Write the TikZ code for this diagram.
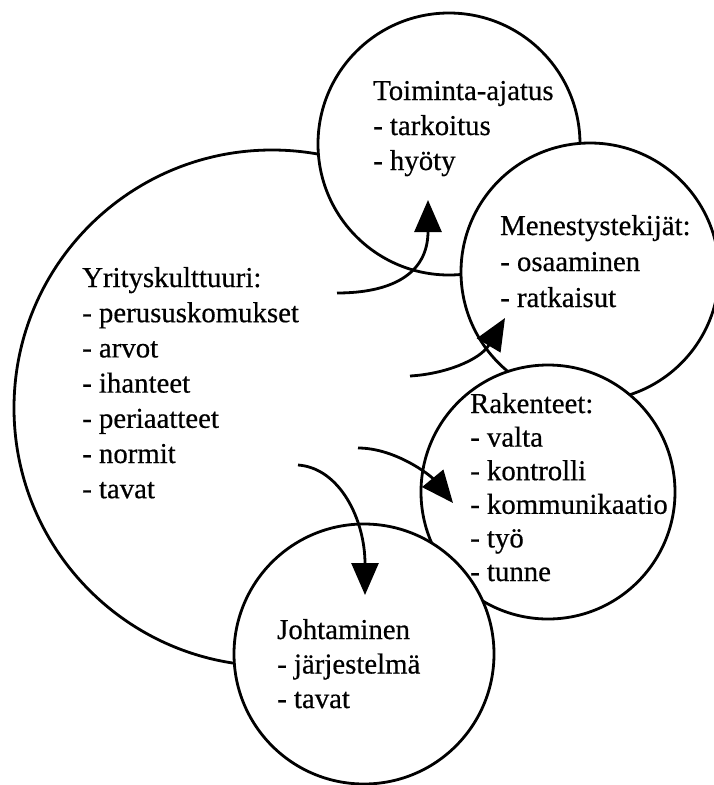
\documentclass[tikz,border=0pt]{standalone}
\usepackage{fontspec}
\setmainfont[FakeBold=0.5]{Liberation Serif}
\usetikzlibrary{arrows.meta}
\begin{document}
\begin{tikzpicture}[x=1pt,y=-1pt,
  ring/.style={circle, draw, line width=2.8pt, fill=white, inner sep=0pt, minimum size=#1},
  lbl/.style={anchor=base west, inner sep=0pt, font=\fontsize{28.8}{35}\selectfont},
  flow/.style={line width=2.8pt, -{Triangle[length=32pt,width=27pt]}}]
\useasboundingbox (0,0) rectangle (714,785);
\clip (0,0) rectangle (714,785);

% the large culture circle, then the overlapping satellite circles
\node[ring=516pt, fill=none] (kult) at (272,408) {};
\node[ring=262pt] (toim) at (449,144) {};
\node[ring=258pt] (men) at (590,272) {};
\node[ring=254pt] (rak) at (548,492) {};
\node[ring=260pt] (joh) at (364,654) {};

% circle texts
\foreach \t [count=\i from 0] in {Yrityskulttuuri:, - perususkomukset, - arvot, - ihanteet, - periaatteet, - normit, - tavat}
  \node[lbl] (yk\i) at (82, 287+35.2*\i) {\t};
\foreach \t [count=\i from 0] in {Toiminta-ajatus, - tarkoitus, - hyöty}
  \node[lbl] (ta\i) at (373, 100+35*\i) {\t};
\foreach \t [count=\i from 0] in {Menestystekijät:, - osaaminen, - ratkaisut}
  \node[lbl] (mt\i) at (500, 235+36*\i) {\t};
\foreach \t [count=\i from 0] in {Rakenteet:, - valta, - kontrolli, - kommunikaatio, - työ, - tunne}
  \node[lbl] (rk\i) at (470, 413+33.6*\i) {\t};
\foreach \t [count=\i from 0] in {Johtaminen, - järjestelmä, - tavat}
  \node[lbl] (jh\i) at (277, 639+34.5*\i) {\t};

% arrow ends
\coordinate (a1s) at (337,293); \coordinate (a1e) at (428,200);
\coordinate (a2s) at (410,376); \coordinate (a2e) at (505,318);
\coordinate (a3s) at (358,448); \coordinate (a3e) at (453,503);
\coordinate (a4s) at (298,465); \coordinate (a4e) at (365,595);

% arrows from the culture circle into the others
\draw[flow] (a1s) .. controls +(53,0) and +(0,75) .. (a1e);
\draw[flow] (a2s) .. controls +(35,-2) and +(-25,42) .. (a2e);
\draw[flow] (a3s) .. controls +(37,0) and +(-23,-28) .. (a3e);
\draw[flow] (a4s) .. controls +(42,3) and +(0,-75) .. (a4e);
\end{tikzpicture}
\end{document}
